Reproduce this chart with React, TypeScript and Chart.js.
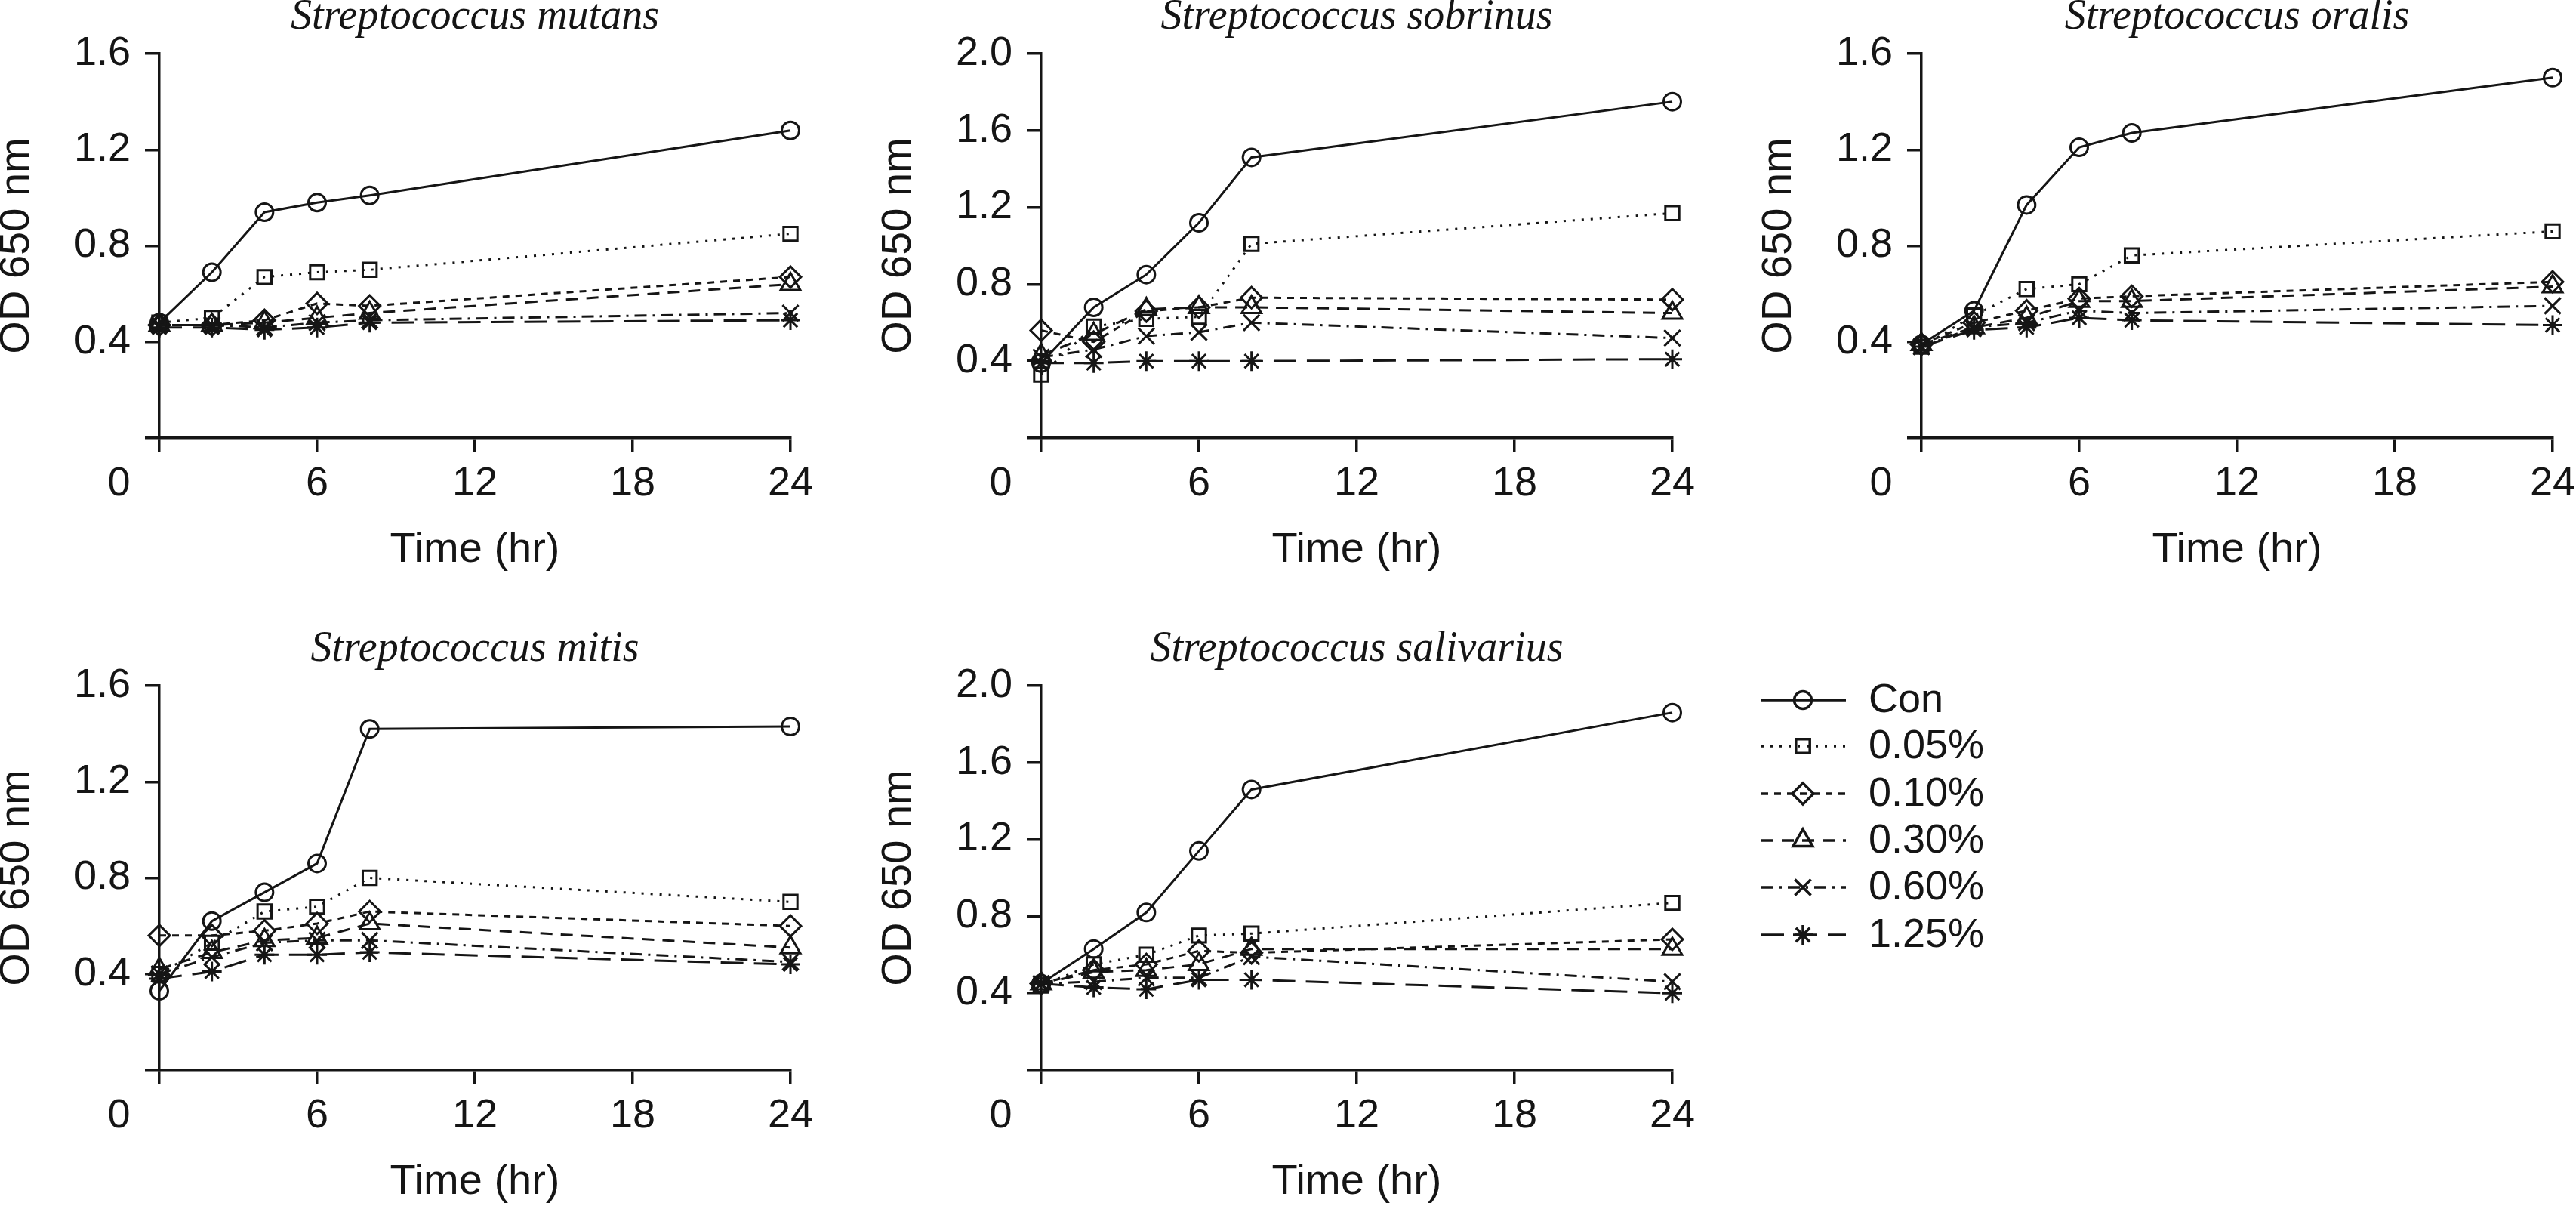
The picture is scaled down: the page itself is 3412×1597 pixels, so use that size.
import React, { useEffect, useRef } from 'react';
import { Chart, registerables } from 'chart.js';
import { drawPoint } from 'chart.js/helpers';

Chart.register(...registerables);

// ---------------- data ----------------
const timeHours = [0, 2, 4, 6, 8, 24];
const xTickValues = [0, 6, 12, 18, 24];
const yTicksLow = [0, 0.4, 0.8, 1.2, 1.6];
const yTicksHigh = [0, 0.4, 0.8, 1.2, 1.6, 2.0];
const seriesNames = ['Con', '0.05%', '0.10%', '0.30%', '0.60%', '1.25%'];
const xTitle = 'Time (hr)';
const yTitle = 'OD 650 nm';
const originLabel = '0';

const mutansCon = [0.48, 0.69, 0.94, 0.98, 1.01, 1.28];
const mutans005 = [0.48, 0.50, 0.67, 0.69, 0.70, 0.85];
const mutans010 = [0.47, 0.47, 0.49, 0.56, 0.55, 0.67];
const mutans030 = [0.47, 0.47, 0.48, 0.50, 0.52, 0.64];
const mutans060 = [0.47, 0.47, 0.46, 0.48, 0.49, 0.52];
const mutans125 = [0.46, 0.46, 0.45, 0.46, 0.48, 0.49];

const sobrinusCon = [0.39, 0.68, 0.85, 1.12, 1.46, 1.75];
const sobrinus005 = [0.33, 0.58, 0.62, 0.63, 1.01, 1.17];
const sobrinus010 = [0.56, 0.50, 0.66, 0.68, 0.73, 0.72];
const sobrinus030 = [0.43, 0.54, 0.67, 0.68, 0.68, 0.65];
const sobrinus060 = [0.42, 0.46, 0.53, 0.55, 0.60, 0.52];
const sobrinus125 = [0.39, 0.39, 0.40, 0.40, 0.40, 0.41];

const oralisCon = [0.39, 0.53, 0.97, 1.21, 1.27, 1.50];
const oralis005 = [0.38, 0.51, 0.62, 0.64, 0.76, 0.86];
const oralis010 = [0.39, 0.48, 0.53, 0.58, 0.59, 0.65];
const oralis030 = [0.39, 0.46, 0.50, 0.57, 0.57, 0.63];
const oralis060 = [0.38, 0.46, 0.48, 0.53, 0.52, 0.55];
const oralis125 = [0.38, 0.45, 0.46, 0.50, 0.49, 0.47];

const mitisCon = [0.33, 0.62, 0.74, 0.86, 1.42, 1.43];
const mitis005 = [0.40, 0.53, 0.66, 0.68, 0.80, 0.70];
const mitis010 = [0.56, 0.56, 0.58, 0.61, 0.66, 0.60];
const mitis030 = [0.42, 0.49, 0.54, 0.55, 0.61, 0.51];
const mitis060 = [0.40, 0.47, 0.53, 0.54, 0.54, 0.45];
const mitis125 = [0.38, 0.41, 0.48, 0.48, 0.49, 0.44];

const salivariusCon = [0.45, 0.63, 0.82, 1.14, 1.46, 1.86];
const salivarius005 = [0.44, 0.55, 0.60, 0.70, 0.71, 0.87];
const salivarius010 = [0.45, 0.52, 0.55, 0.62, 0.61, 0.68];
const salivarius030 = [0.45, 0.51, 0.52, 0.55, 0.63, 0.63];
const salivarius060 = [0.45, 0.46, 0.48, 0.48, 0.59, 0.46];
const salivarius125 = [0.45, 0.43, 0.42, 0.47, 0.47, 0.40];

// ---------------- styles / layout ----------------
const INK = '#151515';
const SANS = '"Liberation Sans", Arial, sans-serif';
const SERIF = '"Liberation Serif", "Times New Roman", serif';

const seriesStyles = [
  { pointStyle: 'circle', radius: 11.5, dash: [] as number[] },
  { pointStyle: 'rect', radius: 13, dash: [3, 9] },
  { pointStyle: 'rectRot', radius: 14, dash: [9, 8] },
  { pointStyle: 'triangle', radius: 15, dash: [16, 11] },
  { pointStyle: 'crossRot', radius: 15, dash: [16, 8, 3, 8] },
  { pointStyle: 'star', radius: 13, dash: [30, 14] },
];

const LW = 230; // y-scale box width
const TH = 75; // title box height
const PW = 836; // plot width
const PH = 510; // plot height
const RW = 45; // right padding
const BH = 190; // x-scale box height

type PanelDef = {
  title: string;
  plotLeft: number;
  plotTop: number;
  yMax: number;
  yTicks: number[];
  series: number[][];
};

const panels: PanelDef[] = [
  { title: 'Streptococcus mutans', plotLeft: 211, plotTop: 70, yMax: 1.6, yTicks: yTicksLow,
    series: [mutansCon, mutans005, mutans010, mutans030, mutans060, mutans125] },
  { title: 'Streptococcus sobrinus', plotLeft: 1379, plotTop: 70, yMax: 2.0, yTicks: yTicksHigh,
    series: [sobrinusCon, sobrinus005, sobrinus010, sobrinus030, sobrinus060, sobrinus125] },
  { title: 'Streptococcus oralis', plotLeft: 2545, plotTop: 70, yMax: 1.6, yTicks: yTicksLow,
    series: [oralisCon, oralis005, oralis010, oralis030, oralis060, oralis125] },
  { title: 'Streptococcus mitis', plotLeft: 211, plotTop: 907, yMax: 1.6, yTicks: yTicksLow,
    series: [mitisCon, mitis005, mitis010, mitis030, mitis060, mitis125] },
  { title: 'Streptococcus salivarius', plotLeft: 1379, plotTop: 907, yMax: 2.0, yTicks: yTicksHigh,
    series: [salivariusCon, salivarius005, salivarius010, salivarius030, salivarius060, salivarius125] },
];

const originLabelPlugin = {
  id: 'originLabel',
  afterDraw(chart: any) {
    const { ctx, chartArea } = chart;
    ctx.save();
    ctx.font = `54px ${SANS}`;
    ctx.fillStyle = INK;
    ctx.textAlign = 'center';
    ctx.textBaseline = 'middle';
    ctx.fillText(originLabel, chartArea.left - 53.5, chartArea.bottom + 61.5);
    ctx.restore();
  },
};

function Panel({ def }: { def: PanelDef }) {
  const ref = useRef<HTMLCanvasElement | null>(null);
  useEffect(() => {
    if (!ref.current) return;
    const chart = new Chart(ref.current, {
      type: 'line',
      data: {
        datasets: def.series.map((vals, i) => ({
          label: seriesNames[i],
          data: vals.map((v, j) => ({ x: timeHours[j], y: v })),
          borderColor: INK,
          borderWidth: 3,
          borderDash: seriesStyles[i].dash,
          pointStyle: seriesStyles[i].pointStyle as any,
          pointRadius: seriesStyles[i].radius,
          pointHoverRadius: seriesStyles[i].radius,
          pointBorderWidth: 3,
          pointBorderColor: INK,
          pointBackgroundColor: 'rgba(0,0,0,0)',
          fill: false,
          tension: 0,
          clip: false as any,
        })),
      },
      options: {
        responsive: false,
        animation: false,
        devicePixelRatio: 1,
        events: [],
        layout: { padding: { left: 0, top: 0, right: RW, bottom: 0 } },
        plugins: {
          legend: { display: false },
          tooltip: { enabled: false },
          title: {
            display: true,
            text: def.title,
            fullSize: false,
            color: INK,
            font: { family: SERIF, style: 'italic', size: 56, lineHeight: 1, weight: 'normal' },
            padding: { top: 0, bottom: 20 },
          },
        },
        scales: {
          x: {
            type: 'linear',
            min: 0,
            max: 24,
            afterBuildTicks: (s: any) => { s.ticks = xTickValues.map((v) => ({ value: v })); },
            afterFit: (s: any) => { s.height = BH; },
            ticks: {
              autoSkip: false,
              maxRotation: 0,
              padding: 10,
              color: INK,
              font: { family: SANS, size: 54, lineHeight: 1.2 },
              callback: (v: any) => (v === 0 ? '' : String(v)),
            },
            grid: { drawOnChartArea: false, drawTicks: true, tickLength: 19, color: INK, lineWidth: 3.5 },
            border: { display: true, color: INK, width: 3.5 },
            title: {
              display: true,
              text: xTitle,
              color: INK,
              font: { family: SANS, size: 56, lineHeight: 1 },
              padding: { top: 0, bottom: 13 },
            },
          },
          y: {
            type: 'linear',
            min: 0,
            max: def.yMax,
            afterBuildTicks: (s: any) => { s.ticks = def.yTicks.map((v) => ({ value: v })); },
            afterFit: (s: any) => { s.width = LW; },
            ticks: {
              autoSkip: false,
              padding: 19,
              color: INK,
              font: { family: SANS, size: 54, lineHeight: 1.2 },
              callback: (v: any) => (v === 0 ? '' : Number(v).toFixed(1)),
            },
            grid: { drawOnChartArea: false, drawTicks: true, tickLength: 19, color: INK, lineWidth: 3.5 },
            border: { display: true, color: INK, width: 3.5 },
            title: {
              display: true,
              text: yTitle,
              color: INK,
              font: { family: SANS, size: 56, lineHeight: 1 },
              padding: { top: 14, bottom: 0 },
            },
          },
        },
      } as any,
      plugins: [originLabelPlugin],
    });
    return () => chart.destroy();
  }, [def]);
  const w = LW + PW + RW;
  const h = TH + PH + BH;
  return (
    <canvas
      ref={ref}
      width={w}
      height={h}
      style={{ position: 'absolute', left: def.plotLeft - LW, top: def.plotTop - TH, width: w, height: h }}
    />
  );
}

// legend geometry (relative to legend canvas)
const LEG_LEFT = 2300;
const LEG_TOP = 850;
const legendRows = [77, 138, 201, 263, 325, 388];

const legendPlugin = {
  id: 'customLegend',
  afterDraw(chart: any) {
    const { ctx } = chart;
    chart.data.datasets.forEach((ds: any, i: number) => {
      const y = legendRows[i];
      ctx.save();
      ctx.strokeStyle = INK;
      ctx.lineWidth = 3.5;
      ctx.setLineDash(seriesStyles[i].dash);
      ctx.beginPath();
      ctx.moveTo(33, y);
      ctx.lineTo(145, y);
      ctx.stroke();
      ctx.setLineDash([]);
      ctx.lineWidth = 3.5;
      ctx.fillStyle = 'rgba(0,0,0,0)';
      drawPoint(ctx, { pointStyle: seriesStyles[i].pointStyle as any, radius: seriesStyles[i].radius, borderWidth: 3.5, rotation: 0 } as any, 88, y);
      ctx.fillStyle = INK;
      ctx.font = `54px ${SANS}`;
      ctx.textAlign = 'left';
      ctx.textBaseline = 'middle';
      ctx.fillText(ds.label, 175, y + 1);
      ctx.restore();
    });
  },
};

function Legend() {
  const ref = useRef<HTMLCanvasElement | null>(null);
  useEffect(() => {
    if (!ref.current) return;
    const chart = new Chart(ref.current, {
      type: 'line',
      data: {
        datasets: seriesNames.map((n) => ({ label: n, data: [] as any[] })),
      },
      options: {
        responsive: false,
        animation: false,
        devicePixelRatio: 1,
        events: [],
        plugins: { legend: { display: false }, tooltip: { enabled: false }, title: { display: false } },
        scales: { x: { display: false }, y: { display: false } },
      } as any,
      plugins: [legendPlugin],
    });
    return () => chart.destroy();
  }, []);
  return (
    <canvas
      ref={ref}
      width={460}
      height={450}
      style={{ position: 'absolute', left: LEG_LEFT, top: LEG_TOP, width: 460, height: 450 }}
    />
  );
}

export default function App() {
  return (
    <div style={{ position: 'absolute', left: 0, top: 0, width: 3412, height: 1597, background: '#fff', overflow: 'hidden' }}>
      {panels.map((p) => (
        <Panel key={p.title} def={p} />
      ))}
      <Legend />
    </div>
  );
}
